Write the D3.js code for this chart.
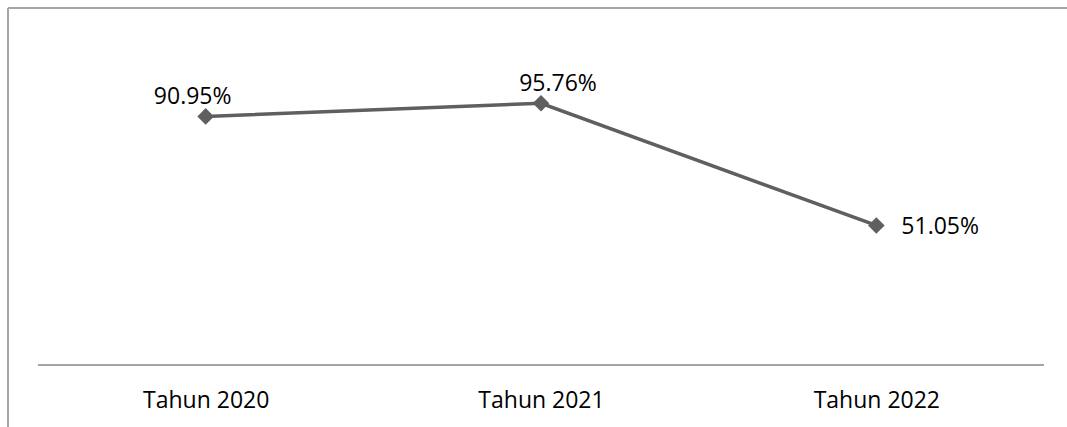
<!DOCTYPE html>
<html>
<head>
<meta charset="utf-8">
<script src="https://cdn.jsdelivr.net/npm/d3@7"></script>
<style>
  html, body { margin: 0; padding: 0; background: #fff; }
  svg { display: block; }
  text { font-family: "Open Sans", "Noto Sans", sans-serif; fill: #000; }
</style>
</head>
<body>
<svg id="chart" width="1067" height="427"></svg>
<script>
// Chart data
const categories = ["Tahun 2020", "Tahun 2021", "Tahun 2022"];
const values = [90.95, 95.76, 51.05];
const valueLabels = ["90.95%", "95.76%", "51.05%"];

const W = 1067, H = 427;
const svg = d3.select("#chart");

svg.append("rect").attr("width", W).attr("height", H).attr("fill", "#fff");

// Chart frame (top and left edges)
svg.append("line").attr("x1", 8).attr("x2", W).attr("y1", 8).attr("y2", 8)
  .attr("stroke", "#a6a6a6").attr("stroke-width", 2);
svg.append("line").attr("x1", 8).attr("x2", 8).attr("y1", 8).attr("y2", H)
  .attr("stroke", "#a6a6a6").attr("stroke-width", 2);

const x = d3.scalePoint().domain(categories).range([38, 1044]).padding(0.5);
const y = d3.scaleLinear().domain([0, 120]).range([365, 37]);

// Category axis
const xAxis = svg.append("g").attr("transform", `translate(0,${y(0)})`)
  .call(d3.axisBottom(x).tickSize(0).tickPadding(0));
xAxis.select(".domain").attr("stroke", "#868686").attr("stroke-width", 1.5)
  .attr("d", "M38,0H1044");
xAxis.selectAll(".tick text")
  .attr("font-family", "'Open Sans', 'Noto Sans', sans-serif")
  .attr("font-size", 23).attr("fill", "#000")
  .attr("dy", 0).attr("y", 43);

const data = categories.map((c, i) => ({ c, v: values[i], label: valueLabels[i] }));

// Series line
svg.append("path").datum(data)
  .attr("fill", "none").attr("stroke", "#5f5f5f").attr("stroke-width", 3.5)
  .attr("d", d3.line().x(d => x(d.c)).y(d => y(d.v)));

// Diamond markers
svg.selectAll(".marker").data(data).enter().append("path")
  .attr("class", "marker")
  .attr("transform", d => `translate(${x(d.c)},${y(d.v)})`)
  .attr("d", d3.symbol(d3.symbolDiamond2, 175)())
  .attr("fill", "#5f5f5f");

// Value labels
const labelOffsets = [
  { dx: -13, dy: -12, anchor: "middle" },
  { dx: 17, dy: -12, anchor: "middle" },
  { dx: 25, dy: 9, anchor: "start" }
];
svg.selectAll(".vlabel").data(data).enter().append("text")
  .attr("class", "vlabel")
  .attr("x", (d, i) => x(d.c) + labelOffsets[i].dx)
  .attr("y", (d, i) => y(d.v) + labelOffsets[i].dy)
  .attr("text-anchor", (d, i) => labelOffsets[i].anchor)
  .attr("font-size", 23)
  .text(d => d.label);
</script>
</body>
</html>
